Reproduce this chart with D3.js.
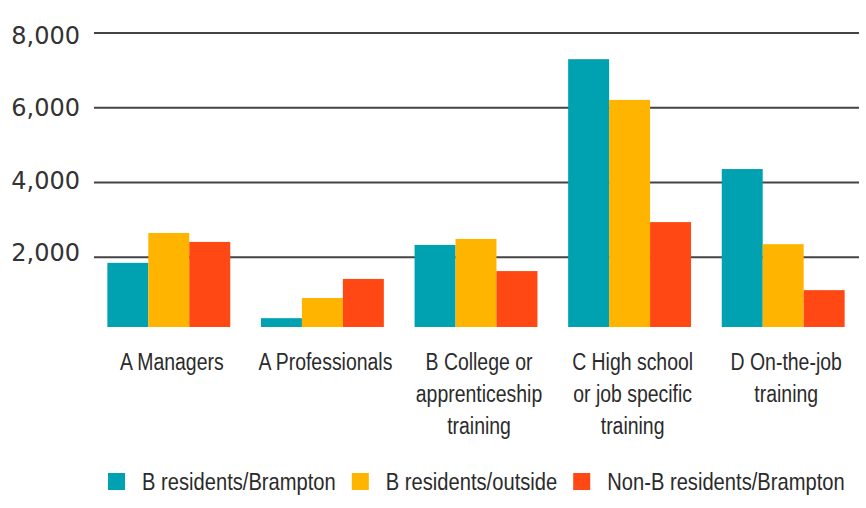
<!DOCTYPE html>
<html>
<head>
<meta charset="utf-8">
<script src="https://cdn.jsdelivr.net/npm/d3@7"></script>
<style>
  body { margin: 0; background: #fff; }
  svg { display: block; }
  .tick-label { font-family: "DejaVu Sans", sans-serif; font-size: 24px; fill: #333; }
  .cat-label, .legend-label { font-family: "Liberation Sans", Arial, sans-serif; font-size: 24px; fill: #2b2b2b; }
</style>
</head>
<body>
<svg id="chart" width="866" height="508"></svg>
<script>
// data
const categories = [
  ["A Managers"],
  ["A Professionals"],
  ["B College or", "apprenticeship", "training"],
  ["C High school", "or job specific", "training"],
  ["D On-the-job", "training"]
];
const seriesNames = ["B residents/Brampton", "B residents/outside", "Non-B residents/Brampton"];
const bramptonValues = [1850, 370, 2330, 7300, 4360];
const outsideValues = [2650, 910, 2490, 6210, 2350];
const nonBValues = [2410, 1420, 1630, 2940, 1120];
const yTicks = [2000, 4000, 6000, 8000];
const colors = ["#00a1b0", "#ffb400", "#ff4814"];

const svg = d3.select("#chart");

// no condensed font installed, so squeeze a normal one
const catSqueeze = 0.81;
const legendSqueeze = 0.84;

let rows = categories.map((c, i) => ({
  key: i,
  lines: c,
  values: [bramptonValues[i], outsideValues[i], nonBValues[i]]
}));

let y = d3.scaleLinear().domain([0, 8000]).range([332, 33]);
// tick labels sit a little off the gridlines in the original
let yLabel = d3.scaleLinear().domain([2000, 8000]).range([261, 44]);

let x0 = d3.scaleBand()
  .domain(rows.map(d => d.key))
  .range([92, 860])
  .paddingInner(0.2)
  .paddingOuter(0.1);

let x1 = d3.scaleBand()
  .domain(d3.range(seriesNames.length))
  .range([0, x0.bandwidth()]);

let color = d3.scaleOrdinal().domain(d3.range(seriesNames.length)).range(colors);

// gridlines
svg.append("g")
  .selectAll("line")
  .data(yTicks)
  .join("line")
  .attr("x1", 94)
  .attr("x2", 859)
  .attr("y1", d => y(d))
  .attr("y2", d => y(d))
  .attr("stroke", "#444")
  .attr("stroke-width", 2);

svg.append("g")
  .selectAll("text")
  .data(yTicks)
  .join("text")
  .attr("class", "tick-label")
  .attr("x", 80)
  .attr("y", d => yLabel(d))
  .attr("text-anchor", "end")
  .text(d => d3.format(",")(d));

// bars stop a few px short of zero like in the source
const baseGap = 5;

let groups = svg.append("g")
  .selectAll("g")
  .data(rows)
  .join("g")
  .attr("transform", d => `translate(${x0(d.key)},0)`);

groups.selectAll("rect")
  .data(d => d.values.map((v, i) => ({ i: i, v: v })))
  .join("rect")
  .attr("x", d => x1(d.i))
  .attr("width", x1.bandwidth())
  .attr("y", d => y(d.v))
  .attr("height", d => y(0) - y(d.v) - baseGap)
  .attr("fill", d => color(d.i));

// category labels
let labels = svg.append("g")
  .selectAll("text")
  .data(rows)
  .join("text")
  .attr("class", "cat-label")
  .attr("text-anchor", "middle")
  .attr("transform", d => `translate(${x0(d.key) + x0.bandwidth() / 2 + 3},370) scale(${catSqueeze},1)`);

labels.selectAll("tspan")
  .data(d => d.lines)
  .join("tspan")
  .attr("x", 0)
  .attr("y", (d, i) => i * 32)
  .text(d => d);

// legend
let legend = svg.append("g").attr("transform", "translate(108,473)");
let lx = 0;
seriesNames.forEach((name, i) => {
  let item = legend.append("g").attr("transform", `translate(${lx},0)`);
  item.append("rect")
    .attr("width", 17)
    .attr("height", 17)
    .attr("fill", color(i));
  let t = item.append("text")
    .attr("class", "legend-label")
    .attr("transform", `translate(34,17) scale(${legendSqueeze},1)`)
    .text(name);
  lx += 34 + t.node().getComputedTextLength() * legendSqueeze + 16;
});
</script>
</body>
</html>
